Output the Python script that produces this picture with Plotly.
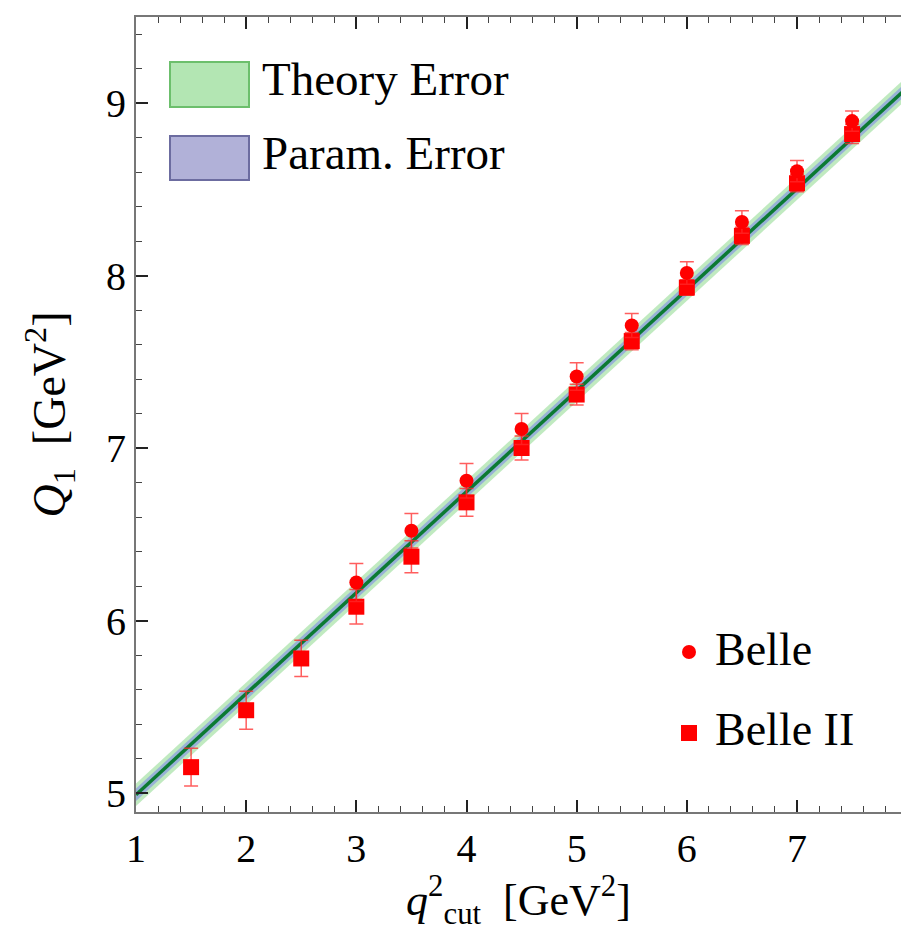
import plotly.graph_objects as go

# ---- data ----
q2_line = [1, 2, 3, 4, 5, 6, 7, 8]
Q1_central = [4.990, 5.576, 6.161, 6.747, 7.332, 7.918, 8.503, 9.089]
theory_err = [0.065, 0.065, 0.065, 0.065, 0.065, 0.065, 0.065, 0.065]
param_err = [0.036, 0.036, 0.036, 0.036, 0.036, 0.036, 0.036, 0.036]

belle_q2 = [3.0, 3.5, 4.0, 4.5, 5.0, 5.5, 6.0, 6.5, 7.0, 7.5]
belle_Q1 = [6.22, 6.52, 6.81, 7.11, 7.415, 7.71, 8.015, 8.31, 8.605, 8.895]
belle_err = [0.11, 0.10, 0.10, 0.09, 0.08, 0.07, 0.065, 0.065, 0.062, 0.058]

belle2_q2 = [1.5, 2.0, 2.5, 3.0, 3.5, 4.0, 4.5, 5.0, 5.5, 6.0, 6.5, 7.0, 7.5]
belle2_Q1 = [5.15, 5.48, 5.78, 6.08, 6.37, 6.685, 7.00, 7.31, 7.62, 7.93, 8.23, 8.535, 8.82]
belle2_err = [0.11, 0.11, 0.105, 0.10, 0.093, 0.08, 0.07, 0.06, 0.05, 0.045, 0.05, 0.05, 0.055]

x_ticks = [1, 2, 3, 4, 5, 6, 7]
y_ticks = [5, 6, 7, 8, 9]

FONT = "Liberation Serif"

fig = go.Figure()

# theory band
th_up = [c + e for c, e in zip(Q1_central, theory_err)]
th_lo = [c - e for c, e in zip(Q1_central, theory_err)]
fig.add_trace(go.Scatter(x=q2_line, y=th_lo, mode="lines", line=dict(width=0),
                         showlegend=False, hoverinfo="skip"))
fig.add_trace(go.Scatter(x=q2_line, y=th_up, mode="lines", line=dict(width=0),
                         fill="tonexty", fillcolor="rgba(150,220,150,0.6)",
                         showlegend=False, hoverinfo="skip"))
# param band
pa_up = [c + e for c, e in zip(Q1_central, param_err)]
pa_lo = [c - e for c, e in zip(Q1_central, param_err)]
fig.add_trace(go.Scatter(x=q2_line, y=pa_lo, mode="lines", line=dict(width=0),
                         showlegend=False, hoverinfo="skip"))
fig.add_trace(go.Scatter(x=q2_line, y=pa_up, mode="lines", line=dict(width=0),
                         fill="tonexty", fillcolor="rgba(150,175,215,0.95)",
                         showlegend=False, hoverinfo="skip"))
# central line
fig.add_trace(go.Scatter(x=q2_line, y=Q1_central, mode="lines",
                         line=dict(color="#0b7a32", width=3.5),
                         showlegend=False, hoverinfo="skip"))

# Belle II squares
fig.add_trace(go.Scatter(x=belle2_q2, y=belle2_Q1, mode="markers",
                         marker=dict(symbol="square", size=16, color="#ff0000"),
                         error_y=dict(type="data", array=belle2_err, color="rgba(255,40,40,0.75)",
                                      thickness=1.5, width=7),
                         showlegend=False))
# Belle circles
fig.add_trace(go.Scatter(x=belle_q2, y=belle_Q1, mode="markers",
                         marker=dict(symbol="circle", size=14, color="#ff0000"),
                         error_y=dict(type="data", array=belle_err, color="rgba(255,40,40,0.75)",
                                      thickness=1.5, width=7),
                         showlegend=False))

# legend (top-left boxes)
fig.add_shape(type="rect", xref="paper", yref="paper",
              x0=(170 - 136) / 765, x1=(249 - 136) / 765,
              y0=(812 - 107) / 795, y1=(812 - 62) / 795,
              fillcolor="#b3e6b3", line=dict(color="#6cbf6c", width=2))
fig.add_shape(type="rect", xref="paper", yref="paper",
              x0=(170 - 136) / 765, x1=(249 - 136) / 765,
              y0=(812 - 180) / 795, y1=(812 - 136) / 795,
              fillcolor="#b1b1d8", line=dict(color="#6c6ca0", width=2))
fig.add_annotation(xref="paper", yref="paper", x=(260 - 136) / 765, y=(812 - 79) / 795,
                   text="Theory Error", showarrow=False, xanchor="left", yanchor="middle",
                   font=dict(family=FONT, size=47, color="black"))
fig.add_annotation(xref="paper", yref="paper", x=(260 - 136) / 765, y=(812 - 153) / 795,
                   text="Param. Error", showarrow=False, xanchor="left", yanchor="middle",
                   font=dict(family=FONT, size=47, color="black"))

# legend (bottom-right markers)
fig.add_trace(go.Scatter(x=[(689 - 136) / 765], y=[(812 - 652) / 795], xaxis="x2", yaxis="y2",
                         mode="markers", marker=dict(symbol="circle", size=14, color="#ff0000"),
                         showlegend=False, hoverinfo="skip"))
fig.add_trace(go.Scatter(x=[(689 - 136) / 765], y=[(812 - 733) / 795], xaxis="x2", yaxis="y2",
                         mode="markers", marker=dict(symbol="square", size=16, color="#ff0000"),
                         showlegend=False, hoverinfo="skip"))
fig.add_annotation(xref="paper", yref="paper", x=(713 - 136) / 765, y=(812 - 649) / 795,
                   text="Belle", showarrow=False, xanchor="left", yanchor="middle",
                   font=dict(family=FONT, size=46, color="black"))
fig.add_annotation(xref="paper", yref="paper", x=(713 - 136) / 765, y=(812 - 729) / 795,
                   text="Belle II", showarrow=False, xanchor="left", yanchor="middle",
                   font=dict(family=FONT, size=46, color="black"))

axis_common = dict(showgrid=False, zeroline=False, linecolor="#777777", linewidth=2,
                   ticks="inside", ticklen=12, tickwidth=1.5, tickcolor="#222222",
                   tickfont=dict(family=FONT, size=40, color="black"))

fig.update_layout(
    width=901, height=931,
    margin=dict(l=136, r=0, t=17, b=119),
    plot_bgcolor="white", paper_bgcolor="white",
    showlegend=False,
    xaxis=dict(range=[1, 7.944], tickvals=x_ticks, mirror="ticks",
               minor=dict(dtick=0.2, tick0=1, ticks="inside", ticklen=6, tickwidth=1, tickcolor="#444444"),
               title=dict(text="<i>q</i><sup>2</sup><sub>cut</sub>  [GeV<sup>2</sup>]",
                          font=dict(family=FONT, size=44, color="black"), standoff=18),
               **axis_common),
    yaxis=dict(range=[4.890, 9.4986], tickvals=y_ticks,
               minor=dict(dtick=0.2, tick0=5, ticks="inside", ticklen=6, tickwidth=1, tickcolor="#444444"),
               title=dict(text="<i>Q</i><sub>1</sub>  [GeV<sup>2</sup>]",
                          font=dict(family=FONT, size=46, color="black"), standoff=26),
               **axis_common),
    xaxis2=dict(range=[0, 1], domain=[0, 1], visible=False, overlaying="x"),
    yaxis2=dict(range=[0, 1], domain=[0, 1], visible=False, overlaying="y"),
)

fig.write_html("out.html")
